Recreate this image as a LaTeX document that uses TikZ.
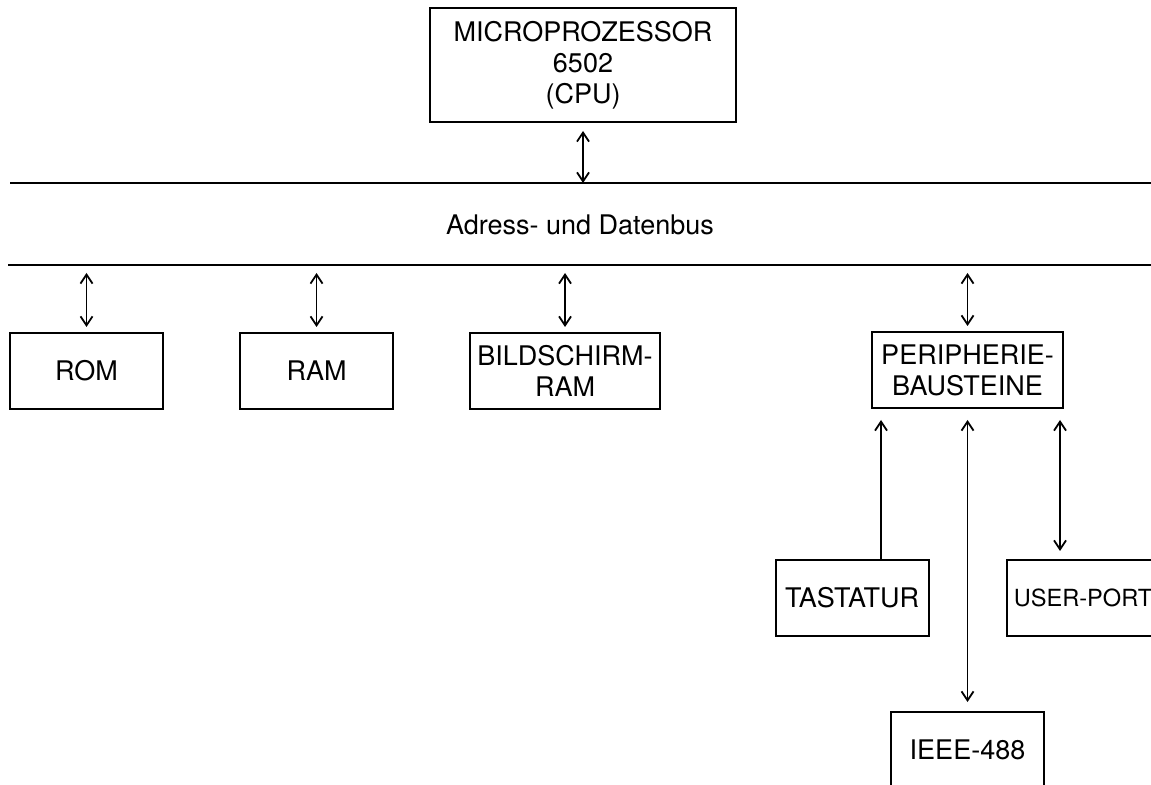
\documentclass[tikz,border=0pt]{standalone}
\usepackage{fontspec}
\setmainfont{TeX Gyre Heros}
\usetikzlibrary{arrows.meta,calc,positioning}

\begin{document}
\begin{tikzpicture}[x=0.5pt,y=-0.5pt,>={Straight Barb[length=4.5pt,width=6pt]},line width=0.9pt,
    font=\fontsize{13.5}{15.5}\selectfont,every node/.style={align=center},
    unit/.style={draw,line width=1pt,inner sep=0pt,minimum width=76.5pt,minimum height=38pt},
    link/.style={<->,shorten <=4pt,shorten >=2.5pt}]
    \clip (0,0) rectangle (1151,785);
    % CPU und Bus
    \node[unit,minimum width=153pt,minimum height=57pt] (cpu) at (583,65) {MICROPROZESSOR\\6502\\(CPU)};
    \coordinate (busT) at (10,183); \coordinate (busTr) at (1160,183);
    \coordinate (busB) at (8,265);  \coordinate (busBr) at (1160,265);
    \draw (busT) -- (busTr);
    \draw (busB) -- (busBr);
    \node (bus) at (580,225) {Adress- und Datenbus};
    \draw[<->,shorten <=4pt] (cpu) -- (cpu |- busT);
    % Speicher und Peripherie
    \node[unit] (rom) at (86.5,371) {ROM};
    \node[unit] (ram) at (316.5,371) {RAM};
    \node[unit,minimum width=95pt] (bram) at (565,371) {BILDSCHIRM-\\RAM};
    \node[unit,minimum width=95.5pt] (peri) at (967.5,370) {PERIPHERIE-\\BAUSTEINE};
    \foreach \n in {rom,ram,bram,peri} \draw[link] (\n.north |- busB) -- (\n);
    % Ein-/Ausgabe
    \node[unit] (tast) at (852,598) {TASTATUR};
    \node[unit,font=\fontsize{11.8}{13}\selectfont] (user) at (1083,598) {USER-PORT};
    \node[unit] (ieee) at (967.5,750) {IEEE-488};
    \draw[->,shorten >=5.5pt] ([xshift=14.5pt]tast.north) -- ([xshift=14.5pt]tast.north |- peri.south);
    \draw[<->,shorten <=5.5pt,shorten >=4.5pt] (peri) -- (ieee);
    \draw[<->,shorten <=5.5pt,shorten >=4pt] ([xshift=-11.5pt]user.north |- peri.south) -- ([xshift=-11.5pt]user.north);
  \end{tikzpicture}
\end{document}
